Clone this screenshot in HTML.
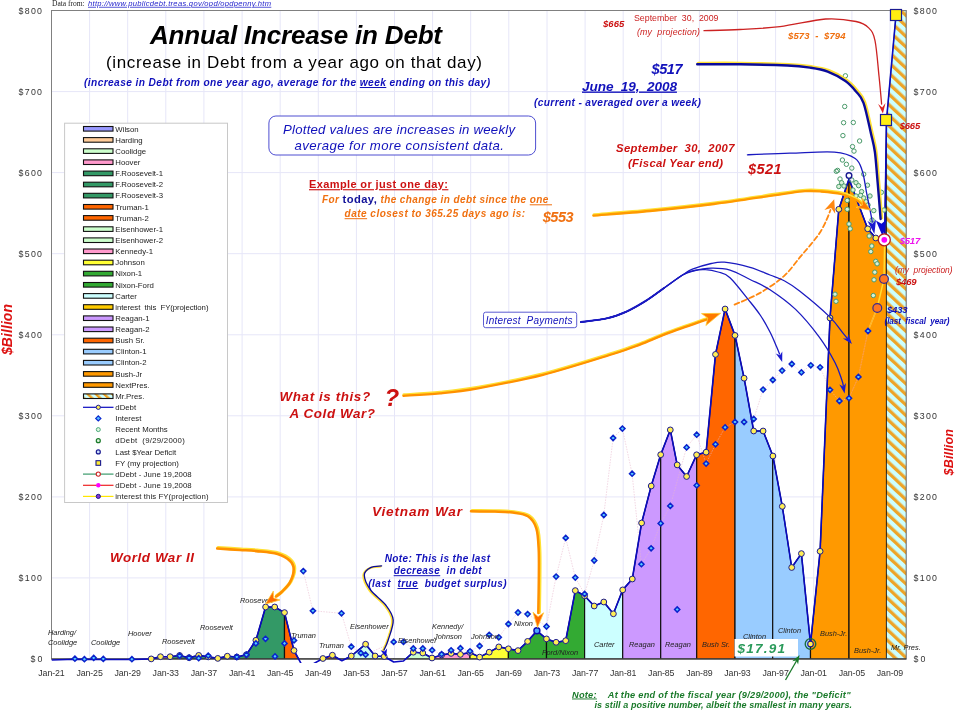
<!DOCTYPE html>
<html><head><meta charset="utf-8"><title>Annual Increase in Debt</title>
<style>
html,body{margin:0;padding:0;background:#fff;}
svg{display:block;font-family:"Liberation Sans", Arial, sans-serif;}
.bi{font-weight:bold;font-style:italic;}
.i{font-style:italic;}
.b{font-weight:bold;}
.ax{font-size:8.8px;fill:#333;}
.lg{font-size:7.8px;fill:#222;}
.pl{font-size:7.4px;fill:#222;font-style:italic;}
</style></head><body>
<svg width="956" height="710" viewBox="0 0 956 710">
<defs>
<pattern id="hatch" width="7.7" height="7" patternUnits="userSpaceOnUse" patternTransform="rotate(-47) translate(4.4,0)">
<rect width="7.7" height="7" fill="#ccffff"/><rect width="3.3" height="7" fill="#eda428"/>
</pattern>
<pattern id="hatchs" width="5.6" height="5" patternUnits="userSpaceOnUse" patternTransform="rotate(-47)">
<rect width="5.6" height="5" fill="#ccffff"/><rect width="2.4" height="5" fill="#f0a020"/>
</pattern>
<clipPath id="plot"><rect x="51.5" y="10.5" width="854.8" height="648.5"/></clipPath>
<clipPath id="plot2"><rect x="51.5" y="10.5" width="854.8" height="652.5"/></clipPath>
<marker id="ahb" viewBox="0 0 10 10" refX="9" refY="5" markerWidth="5" markerHeight="5" orient="auto" markerUnits="userSpaceOnUse"><path d="M0,0 L10,5 L0,10 L3,5 z" fill="#0000b0"/></marker>
</defs>
<rect width="956" height="710" fill="#fff"/>

<path d="M51.5,10.5V659.0 M89.6,10.5V659.0 M127.7,10.5V659.0 M165.8,10.5V659.0 M203.9,10.5V659.0 M242.1,10.5V659.0 M280.2,10.5V659.0 M318.3,10.5V659.0 M356.4,10.5V659.0 M394.5,10.5V659.0 M432.6,10.5V659.0 M470.7,10.5V659.0 M508.8,10.5V659.0 M547.0,10.5V659.0 M585.1,10.5V659.0 M623.2,10.5V659.0 M661.3,10.5V659.0 M699.4,10.5V659.0 M737.5,10.5V659.0 M775.6,10.5V659.0 M813.7,10.5V659.0 M851.9,10.5V659.0 M890.0,10.5V659.0 M51.5,577.9H906.3 M51.5,496.9H906.3 M51.5,415.8H906.3 M51.5,334.8H906.3 M51.5,253.7H906.3 M51.5,172.6H906.3 M51.5,91.6H906.3" stroke="#e6e6f8" stroke-width="1" fill="none"/>
<g clip-path="url(#plot)">
<polygon points="151.2,659.0 151.2,658.9 160.5,656.7 170.1,656.7 170.1,659.0" fill="#ff99cc" stroke="#111" stroke-width="1.2" stroke-linejoin="round"/>
<polygon points="170.1,659.0 170.1,656.7 179.6,655.5 189.1,657.7 198.7,655.4 208.2,656.9 208.2,659.0" fill="#339966" stroke="#111" stroke-width="1.2" stroke-linejoin="round"/>
<polygon points="208.2,659.0 208.2,656.9 217.8,658.4 227.3,656.2 236.8,657.0 246.4,654.7 246.4,659.0" fill="#339966" stroke="#111" stroke-width="1.2" stroke-linejoin="round"/>
<polygon points="246.4,659.0 246.4,654.7 255.9,640.3 265.6,607.0 274.7,607.0 284.5,612.6 284.5,659.0" fill="#339966" stroke="#111" stroke-width="1.2" stroke-linejoin="round"/>
<polygon points="284.5,659.0 284.5,612.6 294.0,650.5 303.5,668.0 313.0,664.0 322.9,658.5 322.9,659.0" fill="#ff6600" stroke="#111" stroke-width="1.2" stroke-linejoin="round"/>
<polygon points="322.9,659.0 322.9,658.5 332.4,655.2 341.9,660.7 351.3,656.0 351.3,659.0" fill="#ff6600" stroke="#111" stroke-width="1.2" stroke-linejoin="round"/>
<polygon points="351.3,659.0 351.3,656.0 365.6,644.2 375.1,656.0 384.2,656.5 393.7,662.0 393.7,659.0" fill="#ccffee" stroke="#111" stroke-width="1.2" stroke-linejoin="round"/>
<polygon points="393.7,659.0 393.7,662.0 403.5,661.0 413.3,652.2 422.8,653.0 432.0,658.0 432.0,659.0" fill="#ccffcc" stroke="#111" stroke-width="1.2" stroke-linejoin="round"/>
<polygon points="432.0,659.0 432.0,658.0 441.6,655.0 451.1,653.4 460.4,654.4 470.0,652.5 470.0,659.0" fill="#ff99cc" stroke="#111" stroke-width="1.2" stroke-linejoin="round"/>
<polygon points="470.0,659.0 470.0,652.5 479.6,657.1 489.2,652.2 498.8,646.9 508.4,648.8 508.4,659.0" fill="#ffff33" stroke="#111" stroke-width="1.2" stroke-linejoin="round"/>
<polygon points="508.4,659.0 508.4,648.8 518.0,650.6 527.6,641.4 536.9,630.8 546.5,638.9 546.5,659.0" fill="#33aa33" stroke="#111" stroke-width="1.2" stroke-linejoin="round"/>
<polygon points="546.5,659.0 546.5,638.9 556.1,642.3 565.7,640.7 575.3,590.6 584.6,595.8 584.6,659.0" fill="#33aa33" stroke="#111" stroke-width="1.2" stroke-linejoin="round"/>
<polygon points="584.6,659.0 584.6,595.8 594.2,606.0 603.8,602.0 613.4,613.8 622.7,589.9 622.7,659.0" fill="#ccffff" stroke="#111" stroke-width="1.2" stroke-linejoin="round"/>
<polygon points="622.7,659.0 622.7,589.9 632.3,579.0 641.6,523.0 651.2,486.0 660.7,454.7 660.7,659.0" fill="#cc99ff" stroke="#111" stroke-width="1.2" stroke-linejoin="round"/>
<polygon points="660.7,659.0 660.7,454.7 670.3,429.9 677.2,464.9 686.6,476.5 696.6,454.8 696.7,454.8 696.7,659.0" fill="#cc99ff" stroke="#111" stroke-width="1.2" stroke-linejoin="round"/>
<polygon points="696.7,659.0 696.7,454.8 706.1,452.2 715.5,354.4 725.1,309.0 735.0,335.4 735.0,659.0" fill="#ff6600" stroke="#111" stroke-width="1.2" stroke-linejoin="round"/>
<polygon points="735.0,659.0 735.0,335.4 744.1,378.2 753.7,431.0 763.1,431.0 772.7,455.5 772.7,659.0" fill="#99ccff" stroke="#111" stroke-width="1.2" stroke-linejoin="round"/>
<polygon points="772.7,659.0 772.7,455.5 772.9,456.0 782.3,506.4 791.7,567.5 801.4,553.6 810.5,644.0 810.5,659.0" fill="#99ccff" stroke="#111" stroke-width="1.2" stroke-linejoin="round"/>
<polygon points="810.5,659.0 810.5,644.0 820.1,551.3 830.0,318.0 838.8,209.3 849.0,179.0 849.0,659.0" fill="#ff9900" stroke="#111" stroke-width="1.2" stroke-linejoin="round"/>
<polygon points="849.0,659.0 849.0,179.0 867.7,228.8 875.8,238.0 884.7,240.5 886.5,120.0 886.5,659.0" fill="#ff9900" stroke="#111" stroke-width="1.2" stroke-linejoin="round"/>
<polygon points="886.5,659.0 886.5,120 896,15 897,5 906.3,5 906.3,659.0" fill="url(#hatch)" stroke="#111" stroke-width="0.6"/>
</g>
<g clip-path="url(#plot)">
<polyline points="303.3,571.1 312.9,610.8 341.5,613.3 351.3,646.7 360.8,653 365.6,654.7 393.7,641.9 403.5,641.9 413.3,648.5 422.8,648.5 432.1,650.2 441.6,654.2 451.1,650.3 460.4,648.2 470,651.3 479.6,646 489.2,634.8 498.8,637.3 508.4,624 518,612.5 527.6,614.1 546.5,626.5 556.1,576.6 565.7,537.9 575.3,577.6 584.6,594 594.2,560.5 603.8,515 613.1,438 622.4,428.6 632.1,473.7 641.4,564.2 651.1,548.3 660.7,523.4 670.3,505.9 686.6,447.4 696.7,434.7 706.1,463.6 715.5,444.3 725.1,427.4 735,422 744.1,422 753.7,419 763.1,389.6 772.8,380 782.1,370.6 791.8,364 801.4,372.4 810.8,365.3 820.1,367.3 830,389.8 839.4,401 849,398.2 858.4,376.9 868,331" fill="none" stroke="#e8b8cc" stroke-width="0.7" stroke-dasharray="1.5,1.2" opacity="0.8"/>
</g>
<rect x="51.5" y="10.5" width="854.8" height="648.5" fill="none" stroke="#808080" stroke-width="1"/>
<path d="M51.5,659.0H906.3" stroke="#222" stroke-width="1.2"/>
<g clip-path="url(#plot2)"><polyline points="51.5,660.0 74.9,659.3 103.0,659.5 132.0,659.5 151.2,658.9 160.5,656.7 170.1,656.7 179.6,655.5 189.1,657.7 198.7,655.4 208.2,656.9 217.8,658.4 227.3,656.2 236.8,657.0 246.4,654.7 255.9,640.3 265.6,607.0 274.7,607.0 284.5,612.6 294.0,650.5 303.5,668.0 313.0,664.0 322.9,658.5 332.4,655.2 341.9,660.7 351.3,656.0 365.6,644.2 375.1,656.0 384.2,656.5 393.7,662.0 403.5,661.0 413.3,652.2 422.8,653.0 432.0,658.0 441.6,655.0 451.1,653.4 460.4,654.4 470.0,652.5 479.6,657.1 489.2,652.2 498.8,646.9 508.4,648.8 518.0,650.6 527.6,641.4 536.9,630.8 546.5,638.9 556.1,642.3 565.7,640.7 575.3,590.6 584.6,595.8 594.2,606.0 603.8,602.0 613.4,613.8 622.7,589.9 632.3,579.0 641.6,523.0 651.2,486.0 660.7,454.7 670.3,429.9 677.2,464.9 686.6,476.5 696.6,454.8 706.1,452.2 715.5,354.4 725.1,309.0 735.0,335.4 744.1,378.2 753.7,431.0 763.1,431.0 772.9,456.0 782.3,506.4 791.7,567.5 801.4,553.6 810.5,644.0 820.1,551.3 830.0,318.0 838.8,209.3 849.0,179.0 867.7,228.8 875.8,238.0 884.7,240.5 886.5,120.0 896.0,15.0 897.0,5.0" fill="none" stroke="#0a0ac0" stroke-width="1.6" stroke-linejoin="round"/></g>
<polyline points="868,331 877.2,308 884,279 884.7,240.5" fill="none" stroke="#ffdd33" stroke-width="1.5"/>
<polyline points="849,398.2 858.4,376.9 868,331 877.2,308" fill="none" stroke="#ff9933" stroke-width="0.8"/>
<g fill="none" stroke="#4a9a6a" stroke-width="1">
<circle cx="845.4" cy="75.8" r="2.2" fill="none"/>
<circle cx="844.7" cy="106.5" r="2.2" fill="none"/>
<circle cx="843.6" cy="122.7" r="2.2" fill="none"/>
<circle cx="853.3" cy="122.5" r="2.2" fill="none"/>
<circle cx="842.9" cy="135.6" r="2.2" fill="none"/>
<circle cx="859.6" cy="141" r="2.2" fill="none"/>
<circle cx="852.5" cy="146.6" r="2.2" fill="none"/>
<circle cx="854" cy="151.1" r="2.2" fill="none"/>
<circle cx="842.4" cy="160" r="2.2" fill="none"/>
<circle cx="846.4" cy="164.3" r="2.2" fill="none"/>
<circle cx="851.8" cy="168.1" r="2.2" fill="none"/>
<circle cx="837.6" cy="170.4" r="2.2" fill="none"/>
<circle cx="863.7" cy="174.2" r="2.2" fill="none"/>
<circle cx="840" cy="179" r="2.2" fill="none"/>
<circle cx="836.3" cy="171.3" r="2.2" fill="none"/>
<circle cx="841.6" cy="182.7" r="2.2" fill="#d8f0d8"/>
<circle cx="838.8" cy="186.5" r="2.2" fill="#d8f0d8"/>
<circle cx="851.8" cy="180" r="2.2" fill="none"/>
<circle cx="856" cy="182.7" r="2.2" fill="#d8f0d8"/>
<circle cx="858.6" cy="185.7" r="2.2" fill="#d8f0d8"/>
<circle cx="867.5" cy="185.2" r="2.2" fill="#d8f0d8"/>
<circle cx="861.6" cy="191.6" r="2.2" fill="#d8f0d8"/>
<circle cx="860.6" cy="195.4" r="2.2" fill="#d8f0d8"/>
<circle cx="863.7" cy="198" r="2.2" fill="#d8f0d8"/>
<circle cx="866.2" cy="201.7" r="2.2" fill="#d8f0d8"/>
<circle cx="847.2" cy="200.4" r="2.2" fill="#d8f0d8"/>
<circle cx="847.2" cy="209.3" r="2.2" fill="#d8f0d8"/>
<circle cx="849" cy="224" r="2.2" fill="#d8f0d8"/>
<circle cx="850.2" cy="228.8" r="2.2" fill="#d8f0d8"/>
<circle cx="881.4" cy="192.3" r="2.2" fill="#d8f0d8"/>
<circle cx="873.8" cy="210.6" r="2.2" fill="#d8f0d8"/>
<circle cx="884" cy="210" r="2.2" fill="#d8f0d8"/>
<circle cx="869.2" cy="236" r="2.2" fill="#d8f0d8"/>
<circle cx="871.8" cy="246" r="2.2" fill="#d8f0d8"/>
<circle cx="870.8" cy="251.6" r="2.2" fill="#d8f0d8"/>
<circle cx="875.8" cy="261.3" r="2.2" fill="#d8f0d8"/>
<circle cx="877.1" cy="263.8" r="2.2" fill="#d8f0d8"/>
<circle cx="874.8" cy="272.2" r="2.2" fill="#d8f0d8"/>
<circle cx="874" cy="279.8" r="2.2" fill="#d8f0d8"/>
<circle cx="873.3" cy="295.5" r="2.2" fill="#d8f0d8"/>
<circle cx="835" cy="294.2" r="2.2" fill="#d8f0d8"/>
<circle cx="836" cy="301.3" r="2.2" fill="#d8f0d8"/>
<circle cx="844" cy="186" r="2.2" fill="#d8f0d8"/>
<circle cx="853" cy="190" r="2.2" fill="#d8f0d8"/>
<circle cx="856" cy="196" r="2.2" fill="#d8f0d8"/>
<circle cx="870" cy="196" r="2.2" fill="#d8f0d8"/>
<circle cx="868" cy="205" r="2.2" fill="#d8f0d8"/>
<circle cx="872" cy="220" r="2.2" fill="#d8f0d8"/>
</g>
<g fill="#ffee55" stroke="#1a1a90" stroke-width="1">
<circle cx="151.2" cy="658.9" r="2.9"/>
<circle cx="160.5" cy="656.7" r="2.9"/>
<circle cx="170.1" cy="656.7" r="2.9"/>
<circle cx="179.6" cy="655.5" r="2.9"/>
<circle cx="189.1" cy="657.7" r="2.9"/>
<circle cx="198.7" cy="655.4" r="2.9"/>
<circle cx="208.2" cy="656.9" r="2.9"/>
<circle cx="217.8" cy="658.4" r="2.9"/>
<circle cx="227.3" cy="656.2" r="2.9"/>
<circle cx="236.8" cy="657" r="2.9"/>
<circle cx="246.4" cy="654.7" r="2.9"/>
<circle cx="255.9" cy="640.3" r="2.9"/>
<circle cx="265.6" cy="607" r="2.9"/>
<circle cx="274.7" cy="607" r="2.9"/>
<circle cx="284.5" cy="612.6" r="2.9"/>
<circle cx="294" cy="650.5" r="2.9"/>
<circle cx="322.9" cy="658.5" r="2.9"/>
<circle cx="332.4" cy="655.2" r="2.9"/>
<circle cx="351.3" cy="656" r="2.9"/>
<circle cx="365.6" cy="644.2" r="2.9"/>
<circle cx="375.1" cy="656" r="2.9"/>
<circle cx="384.2" cy="656.5" r="2.9"/>
<circle cx="413.3" cy="652.2" r="2.9"/>
<circle cx="422.8" cy="653" r="2.9"/>
<circle cx="432" cy="658" r="2.9"/>
<circle cx="441.6" cy="655" r="2.9"/>
<circle cx="451.1" cy="653.4" r="2.9"/>
<circle cx="460.4" cy="654.4" r="2.9"/>
<circle cx="470" cy="652.5" r="2.9"/>
<circle cx="479.6" cy="657.1" r="2.9"/>
<circle cx="489.2" cy="652.2" r="2.9"/>
<circle cx="498.8" cy="646.9" r="2.9"/>
<circle cx="508.4" cy="648.8" r="2.9"/>
<circle cx="518" cy="650.6" r="2.9"/>
<circle cx="527.6" cy="641.4" r="2.9"/>
<circle cx="546.5" cy="638.9" r="2.9"/>
<circle cx="556.1" cy="642.3" r="2.9"/>
<circle cx="565.7" cy="640.7" r="2.9"/>
<circle cx="575.3" cy="590.6" r="2.9"/>
<circle cx="584.6" cy="595.8" r="2.9"/>
<circle cx="594.2" cy="606" r="2.9"/>
<circle cx="603.8" cy="602" r="2.9"/>
<circle cx="613.4" cy="613.8" r="2.9"/>
<circle cx="622.7" cy="589.9" r="2.9"/>
<circle cx="632.3" cy="579" r="2.9"/>
<circle cx="641.6" cy="523" r="2.9"/>
<circle cx="651.2" cy="486" r="2.9"/>
<circle cx="660.7" cy="454.7" r="2.9"/>
<circle cx="670.3" cy="429.9" r="2.9"/>
<circle cx="677.2" cy="464.9" r="2.9"/>
<circle cx="686.6" cy="476.5" r="2.9"/>
<circle cx="696.6" cy="454.8" r="2.9"/>
<circle cx="706.1" cy="452.2" r="2.9"/>
<circle cx="715.5" cy="354.4" r="2.9"/>
<circle cx="725.1" cy="309" r="2.9"/>
<circle cx="735" cy="335.4" r="2.9"/>
<circle cx="744.1" cy="378.2" r="2.9"/>
<circle cx="753.7" cy="431" r="2.9"/>
<circle cx="763.1" cy="431" r="2.9"/>
<circle cx="772.9" cy="456" r="2.9"/>
<circle cx="782.3" cy="506.4" r="2.9"/>
<circle cx="791.7" cy="567.5" r="2.9"/>
<circle cx="801.4" cy="553.6" r="2.9"/>
<circle cx="820.1" cy="551.3" r="2.9"/>
<circle cx="830" cy="318" r="2.9"/>
<circle cx="838.8" cy="209.3" r="2.9"/>
<circle cx="867.7" cy="228.8" r="2.9"/>
<circle cx="875.8" cy="238" r="2.9"/>
</g>
<g fill="#55ccff" stroke="#0a22cc" stroke-width="1.5">
<path d="M74.9,656.1l2.6,2.6l-2.6,2.6l-2.6,-2.6z"/>
<path d="M84.4,656.6l2.6,2.6l-2.6,2.6l-2.6,-2.6z"/>
<path d="M93.7,655.3l2.6,2.6l-2.6,2.6l-2.6,-2.6z"/>
<path d="M103.3,656.3l2.6,2.6l-2.6,2.6l-2.6,-2.6z"/>
<path d="M131.9,656.6l2.6,2.6l-2.6,2.6l-2.6,-2.6z"/>
<path d="M179.6,653.1l2.6,2.6l-2.6,2.6l-2.6,-2.6z"/>
<path d="M189.1,655.1l2.6,2.6l-2.6,2.6l-2.6,-2.6z"/>
<path d="M198.7,655.6l2.6,2.6l-2.6,2.6l-2.6,-2.6z"/>
<path d="M208.2,653.1l2.6,2.6l-2.6,2.6l-2.6,-2.6z"/>
<path d="M236.8,654.3l2.6,2.6l-2.6,2.6l-2.6,-2.6z"/>
<path d="M246.4,652.1l2.6,2.6l-2.6,2.6l-2.6,-2.6z"/>
<path d="M255.9,640.8l2.6,2.6l-2.6,2.6l-2.6,-2.6z"/>
<path d="M265.5,636.2l2.6,2.6l-2.6,2.6l-2.6,-2.6z"/>
<path d="M275,653.8l2.6,2.6l-2.6,2.6l-2.6,-2.6z"/>
<path d="M284.5,640.8l2.6,2.6l-2.6,2.6l-2.6,-2.6z"/>
<path d="M294,637.8l2.6,2.6l-2.6,2.6l-2.6,-2.6z"/>
<path d="M303.3,568.5l2.6,2.6l-2.6,2.6l-2.6,-2.6z"/>
<path d="M312.9,608.2l2.6,2.6l-2.6,2.6l-2.6,-2.6z"/>
<path d="M341.5,610.7l2.6,2.6l-2.6,2.6l-2.6,-2.6z"/>
<path d="M351.3,644.1l2.6,2.6l-2.6,2.6l-2.6,-2.6z"/>
<path d="M360.8,650.4l2.6,2.6l-2.6,2.6l-2.6,-2.6z"/>
<path d="M365.6,652.1l2.6,2.6l-2.6,2.6l-2.6,-2.6z"/>
<path d="M393.7,639.3l2.6,2.6l-2.6,2.6l-2.6,-2.6z"/>
<path d="M403.5,639.3l2.6,2.6l-2.6,2.6l-2.6,-2.6z"/>
<path d="M413.3,645.9l2.6,2.6l-2.6,2.6l-2.6,-2.6z"/>
<path d="M422.8,645.9l2.6,2.6l-2.6,2.6l-2.6,-2.6z"/>
<path d="M432.1,647.6l2.6,2.6l-2.6,2.6l-2.6,-2.6z"/>
<path d="M441.6,651.6l2.6,2.6l-2.6,2.6l-2.6,-2.6z"/>
<path d="M451.1,647.7l2.6,2.6l-2.6,2.6l-2.6,-2.6z"/>
<path d="M460.4,645.6l2.6,2.6l-2.6,2.6l-2.6,-2.6z"/>
<path d="M470,648.7l2.6,2.6l-2.6,2.6l-2.6,-2.6z"/>
<path d="M479.6,643.4l2.6,2.6l-2.6,2.6l-2.6,-2.6z"/>
<path d="M489.2,632.2l2.6,2.6l-2.6,2.6l-2.6,-2.6z"/>
<path d="M498.8,634.7l2.6,2.6l-2.6,2.6l-2.6,-2.6z"/>
<path d="M508.4,621.4l2.6,2.6l-2.6,2.6l-2.6,-2.6z"/>
<path d="M518,609.9l2.6,2.6l-2.6,2.6l-2.6,-2.6z"/>
<path d="M527.6,611.5l2.6,2.6l-2.6,2.6l-2.6,-2.6z"/>
<path d="M546.5,623.9l2.6,2.6l-2.6,2.6l-2.6,-2.6z"/>
<path d="M556.1,574.0l2.6,2.6l-2.6,2.6l-2.6,-2.6z"/>
<path d="M565.7,535.3l2.6,2.6l-2.6,2.6l-2.6,-2.6z"/>
<path d="M575.3,575.0l2.6,2.6l-2.6,2.6l-2.6,-2.6z"/>
<path d="M584.6,591.4l2.6,2.6l-2.6,2.6l-2.6,-2.6z"/>
<path d="M594.2,557.9l2.6,2.6l-2.6,2.6l-2.6,-2.6z"/>
<path d="M603.8,512.4l2.6,2.6l-2.6,2.6l-2.6,-2.6z"/>
<path d="M613.1,435.4l2.6,2.6l-2.6,2.6l-2.6,-2.6z"/>
<path d="M622.4,426.0l2.6,2.6l-2.6,2.6l-2.6,-2.6z"/>
<path d="M632.1,471.1l2.6,2.6l-2.6,2.6l-2.6,-2.6z"/>
<path d="M641.4,561.6l2.6,2.6l-2.6,2.6l-2.6,-2.6z"/>
<path d="M651.1,545.7l2.6,2.6l-2.6,2.6l-2.6,-2.6z"/>
<path d="M660.7,520.8l2.6,2.6l-2.6,2.6l-2.6,-2.6z"/>
<path d="M670.3,503.3l2.6,2.6l-2.6,2.6l-2.6,-2.6z"/>
<path d="M677.2,606.9l2.6,2.6l-2.6,2.6l-2.6,-2.6z"/>
<path d="M686.6,444.8l2.6,2.6l-2.6,2.6l-2.6,-2.6z"/>
<path d="M696.7,432.1l2.6,2.6l-2.6,2.6l-2.6,-2.6z"/>
<path d="M696.7,482.8l2.6,2.6l-2.6,2.6l-2.6,-2.6z"/>
<path d="M706.1,461.0l2.6,2.6l-2.6,2.6l-2.6,-2.6z"/>
<path d="M715.5,441.7l2.6,2.6l-2.6,2.6l-2.6,-2.6z"/>
<path d="M725.1,424.8l2.6,2.6l-2.6,2.6l-2.6,-2.6z"/>
<path d="M735,419.4l2.6,2.6l-2.6,2.6l-2.6,-2.6z"/>
<path d="M744.1,419.4l2.6,2.6l-2.6,2.6l-2.6,-2.6z"/>
<path d="M753.7,416.4l2.6,2.6l-2.6,2.6l-2.6,-2.6z"/>
<path d="M763.1,387.0l2.6,2.6l-2.6,2.6l-2.6,-2.6z"/>
<path d="M772.8,377.4l2.6,2.6l-2.6,2.6l-2.6,-2.6z"/>
<path d="M782.1,368.0l2.6,2.6l-2.6,2.6l-2.6,-2.6z"/>
<path d="M791.8,361.4l2.6,2.6l-2.6,2.6l-2.6,-2.6z"/>
<path d="M801.4,369.8l2.6,2.6l-2.6,2.6l-2.6,-2.6z"/>
<path d="M810.8,362.7l2.6,2.6l-2.6,2.6l-2.6,-2.6z"/>
<path d="M820.1,364.7l2.6,2.6l-2.6,2.6l-2.6,-2.6z"/>
<path d="M830,387.2l2.6,2.6l-2.6,2.6l-2.6,-2.6z"/>
<path d="M839.4,398.4l2.6,2.6l-2.6,2.6l-2.6,-2.6z"/>
<path d="M849,395.6l2.6,2.6l-2.6,2.6l-2.6,-2.6z"/>
<path d="M858.4,374.3l2.6,2.6l-2.6,2.6l-2.6,-2.6z"/>
<path d="M868,328.4l2.6,2.6l-2.6,2.6l-2.6,-2.6z"/>
</g>
<circle cx="536.9" cy="630.8" r="3" fill="#4da6ff" stroke="#0a0ab0" stroke-width="1.4"/>
<circle cx="849" cy="175.6" r="2.8" fill="#fff" stroke="#1a1a90" stroke-width="1.4"/>
<circle cx="810.5" cy="644" r="5.3" fill="none" stroke="#1a6a3a" stroke-width="1.3"/><circle cx="810.5" cy="644" r="2.8" fill="#ffee55" stroke="#1a1a90" stroke-width="1.1"/>
<text x="30.5" y="662.2" class="ax" letter-spacing="2.203" >$0</text>
<text x="913.5" y="662.2" class="ax" letter-spacing="2.203" >$0</text>
<text x="18.5" y="581.1" class="ax" letter-spacing="1.307" >$100</text>
<text x="913.5" y="581.1" class="ax" letter-spacing="1.307" >$100</text>
<text x="18.5" y="500.1" class="ax" letter-spacing="1.307" >$200</text>
<text x="913.5" y="500.1" class="ax" letter-spacing="1.307" >$200</text>
<text x="18.5" y="419.0" class="ax" letter-spacing="1.307" >$300</text>
<text x="913.5" y="419.0" class="ax" letter-spacing="1.307" >$300</text>
<text x="18.5" y="337.9" class="ax" letter-spacing="1.307" >$400</text>
<text x="913.5" y="337.9" class="ax" letter-spacing="1.307" >$400</text>
<text x="18.5" y="256.9" class="ax" letter-spacing="1.307" >$500</text>
<text x="913.5" y="256.9" class="ax" letter-spacing="1.307" >$500</text>
<text x="18.5" y="175.8" class="ax" letter-spacing="1.307" >$600</text>
<text x="913.5" y="175.8" class="ax" letter-spacing="1.307" >$600</text>
<text x="18.5" y="94.8" class="ax" letter-spacing="1.307" >$700</text>
<text x="913.5" y="94.8" class="ax" letter-spacing="1.307" >$700</text>
<text x="18.5" y="13.7" class="ax" letter-spacing="1.307" >$800</text>
<text x="913.5" y="13.7" class="ax" letter-spacing="1.307" >$800</text>
<text x="38.3" y="676.3" class="ax" letter-spacing="-0.101" >Jan-21</text>
<text x="76.4" y="676.3" class="ax" letter-spacing="-0.101" >Jan-25</text>
<text x="114.5" y="676.3" class="ax" letter-spacing="-0.101" >Jan-29</text>
<text x="152.6" y="676.3" class="ax" letter-spacing="-0.101" >Jan-33</text>
<text x="190.7" y="676.3" class="ax" letter-spacing="-0.101" >Jan-37</text>
<text x="228.9" y="676.3" class="ax" letter-spacing="-0.101" >Jan-41</text>
<text x="267.0" y="676.3" class="ax" letter-spacing="-0.101" >Jan-45</text>
<text x="305.1" y="676.3" class="ax" letter-spacing="-0.101" >Jan-49</text>
<text x="343.2" y="676.3" class="ax" letter-spacing="-0.101" >Jan-53</text>
<text x="381.3" y="676.3" class="ax" letter-spacing="-0.101" >Jan-57</text>
<text x="419.4" y="676.3" class="ax" letter-spacing="-0.101" >Jan-61</text>
<text x="457.5" y="676.3" class="ax" letter-spacing="-0.101" >Jan-65</text>
<text x="495.6" y="676.3" class="ax" letter-spacing="-0.101" >Jan-69</text>
<text x="533.8" y="676.3" class="ax" letter-spacing="-0.101" >Jan-73</text>
<text x="571.9" y="676.3" class="ax" letter-spacing="-0.101" >Jan-77</text>
<text x="610.0" y="676.3" class="ax" letter-spacing="-0.101" >Jan-81</text>
<text x="648.1" y="676.3" class="ax" letter-spacing="-0.101" >Jan-85</text>
<text x="686.2" y="676.3" class="ax" letter-spacing="-0.101" >Jan-89</text>
<text x="724.3" y="676.3" class="ax" letter-spacing="-0.101" >Jan-93</text>
<text x="762.4" y="676.3" class="ax" letter-spacing="-0.101" >Jan-97</text>
<text x="800.5" y="676.3" class="ax" letter-spacing="-0.101" >Jan-01</text>
<text x="838.7" y="676.3" class="ax" letter-spacing="-0.101" >Jan-05</text>
<text x="876.8" y="676.3" class="ax" letter-spacing="-0.101" >Jan-09</text>
<text transform="translate(12.2,355) rotate(-90)" class="bi" font-size="14" fill="#dd1111" letter-spacing="0.062">$Billion</text>
<text transform="translate(953.2,475.5) rotate(-90)" class="bi" font-size="12.6" fill="#dd1111" letter-spacing="0.145">$Billion</text>
<text x="52" y="5.6" font-family="'Liberation Serif', serif" font-size="7.5" fill="#222">Data from:</text>
<text x="88" y="5.8" class="i" font-size="7.6" fill="#2222cc" text-decoration="underline" letter-spacing="0.286">http://www.publicdebt.treas.gov/opd/opdpenny.htm</text>
<text x="150" y="44" class="bi" font-size="26" fill="#000" letter-spacing="-0.190" >Annual Increase in Debt</text>
<text x="106" y="67.5" font-size="17" fill="#000" letter-spacing="0.649" >(increase in Debt from a year ago on that day)</text>
<text x="84" y="86" class="bi" font-size="10.2" fill="#1111bb" letter-spacing="0.396">(increase in Debt from one year ago, average for the  <tspan text-decoration="underline">week</tspan>  ending on this day)</text>
<rect x="64.6" y="123.2" width="162.9" height="379.3" fill="#fff" stroke="#c8c8c8" stroke-width="1"/>
<rect x="83.5" y="126.5" width="29.5" height="4.6" fill="#9999ff" stroke="#111" stroke-width="1.1"/>
<text x="115.3" y="131.5" class="lg" xml:space="preserve">Wilson</text>
<rect x="83.5" y="137.6" width="29.5" height="4.6" fill="#ffcc99" stroke="#111" stroke-width="1.1"/>
<text x="115.3" y="142.6" class="lg" xml:space="preserve">Harding</text>
<rect x="83.5" y="148.8" width="29.5" height="4.6" fill="#ccffcc" stroke="#111" stroke-width="1.1"/>
<text x="115.3" y="153.8" class="lg" xml:space="preserve">Coolidge</text>
<rect x="83.5" y="159.9" width="29.5" height="4.6" fill="#ff99cc" stroke="#111" stroke-width="1.1"/>
<text x="115.3" y="164.9" class="lg" xml:space="preserve">Hoover</text>
<rect x="83.5" y="171.1" width="29.5" height="4.6" fill="#339966" stroke="#111" stroke-width="1.1"/>
<text x="115.3" y="176.1" class="lg" xml:space="preserve">F.Roosevelt-1</text>
<rect x="83.5" y="182.2" width="29.5" height="4.6" fill="#339966" stroke="#111" stroke-width="1.1"/>
<text x="115.3" y="187.2" class="lg" xml:space="preserve">F.Roosevelt-2</text>
<rect x="83.5" y="193.3" width="29.5" height="4.6" fill="#339966" stroke="#111" stroke-width="1.1"/>
<text x="115.3" y="198.3" class="lg" xml:space="preserve">F.Roosevelt-3</text>
<rect x="83.5" y="204.5" width="29.5" height="4.6" fill="#ff6600" stroke="#111" stroke-width="1.1"/>
<text x="115.3" y="209.5" class="lg" xml:space="preserve">Truman-1</text>
<rect x="83.5" y="215.6" width="29.5" height="4.6" fill="#ff6600" stroke="#111" stroke-width="1.1"/>
<text x="115.3" y="220.6" class="lg" xml:space="preserve">Truman-2</text>
<rect x="83.5" y="226.8" width="29.5" height="4.6" fill="#ccffcc" stroke="#111" stroke-width="1.1"/>
<text x="115.3" y="231.8" class="lg" xml:space="preserve">Eisenhower-1</text>
<rect x="83.5" y="237.9" width="29.5" height="4.6" fill="#ccffcc" stroke="#111" stroke-width="1.1"/>
<text x="115.3" y="242.9" class="lg" xml:space="preserve">Eisenhower-2</text>
<rect x="83.5" y="249.0" width="29.5" height="4.6" fill="#ff99cc" stroke="#111" stroke-width="1.1"/>
<text x="115.3" y="254.0" class="lg" xml:space="preserve">Kennedy-1</text>
<rect x="83.5" y="260.2" width="29.5" height="4.6" fill="#ffff33" stroke="#111" stroke-width="1.1"/>
<text x="115.3" y="265.2" class="lg" xml:space="preserve">Johnson</text>
<rect x="83.5" y="271.3" width="29.5" height="4.6" fill="#33aa33" stroke="#111" stroke-width="1.1"/>
<text x="115.3" y="276.3" class="lg" xml:space="preserve">Nixon-1</text>
<rect x="83.5" y="282.5" width="29.5" height="4.6" fill="#33aa33" stroke="#111" stroke-width="1.1"/>
<text x="115.3" y="287.5" class="lg" xml:space="preserve">Nixon-Ford</text>
<rect x="83.5" y="293.6" width="29.5" height="4.6" fill="#ccffff" stroke="#111" stroke-width="1.1"/>
<text x="115.3" y="298.6" class="lg" xml:space="preserve">Carter</text>
<rect x="83.5" y="304.7" width="29.5" height="4.6" fill="#ffcc00" stroke="#111" stroke-width="1.1"/>
<text x="115.3" y="309.7" class="lg" letter-spacing="-0.074" xml:space="preserve">interest  this  FY(projection)</text>
<rect x="83.5" y="315.9" width="29.5" height="4.6" fill="#cc99ff" stroke="#111" stroke-width="1.1"/>
<text x="115.3" y="320.9" class="lg" xml:space="preserve">Reagan-1</text>
<rect x="83.5" y="327.0" width="29.5" height="4.6" fill="#cc99ff" stroke="#111" stroke-width="1.1"/>
<text x="115.3" y="332.0" class="lg" xml:space="preserve">Reagan-2</text>
<rect x="83.5" y="338.2" width="29.5" height="4.6" fill="#ff6600" stroke="#111" stroke-width="1.1"/>
<text x="115.3" y="343.2" class="lg" xml:space="preserve">Bush Sr.</text>
<rect x="83.5" y="349.3" width="29.5" height="4.6" fill="#99ccff" stroke="#111" stroke-width="1.1"/>
<text x="115.3" y="354.3" class="lg" xml:space="preserve">Clinton-1</text>
<rect x="83.5" y="360.4" width="29.5" height="4.6" fill="#99ccff" stroke="#111" stroke-width="1.1"/>
<text x="115.3" y="365.4" class="lg" xml:space="preserve">Clinton-2</text>
<rect x="83.5" y="371.6" width="29.5" height="4.6" fill="#ff9900" stroke="#111" stroke-width="1.1"/>
<text x="115.3" y="376.6" class="lg" xml:space="preserve">Bush-Jr</text>
<rect x="83.5" y="382.7" width="29.5" height="4.6" fill="#ff9900" stroke="#111" stroke-width="1.1"/>
<text x="115.3" y="387.7" class="lg" xml:space="preserve">NextPres.</text>
<rect x="83.5" y="393.9" width="29.5" height="4.6" fill="url(#hatchs)" stroke="#111" stroke-width="1.1"/>
<text x="115.3" y="398.9" class="lg" xml:space="preserve">Mr.Pres.</text>
<path d="M83,407.3H113.5" stroke="#0a0ac0" stroke-width="1.2"/><circle cx="98.3" cy="407.3" r="2.1" fill="#ffee55" stroke="#1a1a90" stroke-width="1"/>
<text x="115.3" y="410.0" class="lg" xml:space="preserve">dDebt</text>
<path d="M98.3,415.8l2.6,2.6l-2.6,2.6l-2.6,-2.6z" fill="#55bbff" stroke="#0a2ad0" stroke-width="1.2"/>
<text x="115.3" y="421.1" class="lg" xml:space="preserve">Interest</text>
<circle cx="98.3" cy="429.6" r="2" fill="#e0f5e0" stroke="#4aaa7a" stroke-width="1"/>
<text x="115.3" y="432.3" class="lg" xml:space="preserve">Recent Months</text>
<circle cx="98.3" cy="440.7" r="2" fill="#e0f5e0" stroke="#1a7a2a" stroke-width="1.2"/>
<text x="115.3" y="443.4" class="lg" letter-spacing="0.263" xml:space="preserve">dDebt  (9/29/2000)</text>
<circle cx="98.3" cy="451.9" r="2" fill="#cce0ff" stroke="#1a1a90" stroke-width="1.2"/>
<text x="115.3" y="454.6" class="lg" xml:space="preserve">Last $Year Deficit</text>
<rect x="96.0" y="460.7" width="4.6" height="4.6" fill="#ffee33" stroke="#1a1a90" stroke-width="1.1"/>
<text x="115.3" y="465.7" class="lg" xml:space="preserve">FY (my projection)</text>
<path d="M83,474.1H113.5" stroke="#3a9a6a" stroke-width="1.2"/><circle cx="98.3" cy="474.1" r="2.1" fill="#fff" stroke="#cc2222" stroke-width="1.1"/>
<text x="115.3" y="476.8" class="lg" letter-spacing="0.074" xml:space="preserve">dDebt - June 19,2008</text>
<path d="M83,485.3H113.5" stroke="#ee2222" stroke-width="1.2"/><circle cx="98.3" cy="485.3" r="2.2" fill="#ff00ff"/>
<text x="115.3" y="488.0" class="lg" letter-spacing="0.074" xml:space="preserve">dDebt - June 19,2008</text>
<path d="M83,496.4H113.5" stroke="#ffe600" stroke-width="1.2"/><circle cx="98.3" cy="496.4" r="2.1" fill="#8833cc" stroke="#1a1a90" stroke-width="1"/>
<text x="115.3" y="499.1" class="lg" letter-spacing="0.081" xml:space="preserve">interest this FY(projection)</text>
<text x="48" y="634.5" class="pl" >Harding/</text>
<text x="48" y="644.5" class="pl" >Coolidge</text>
<text x="91" y="645" class="pl" >Coolidge</text>
<text x="128" y="636" class="pl" >Hoover</text>
<text x="162" y="644" class="pl" >Roosevelt</text>
<text x="200" y="629.5" class="pl" >Roosevelt</text>
<text x="240" y="603" class="pl" >Roosevelt</text>
<text x="291" y="638" class="pl" >Truman</text>
<text x="319" y="648" class="pl" >Truman</text>
<text x="350" y="629" class="pl" >Eisenhower</text>
<text x="398" y="642.5" class="pl" >Eisenhower</text>
<text x="432" y="629" class="pl" >Kennedy/</text>
<text x="434" y="639" class="pl" >Johnson</text>
<text x="471" y="639" class="pl" >Johnson</text>
<text x="514" y="626" class="pl" >Nixon</text>
<text x="542" y="655" class="pl" >Ford/Nixon</text>
<text x="594" y="647" class="pl" >Carter</text>
<text x="629" y="647" class="pl" >Reagan</text>
<text x="665" y="647" class="pl" >Reagan</text>
<text x="702" y="647" class="pl" >Bush Sr.</text>
<text x="743" y="639" class="pl" >Clinton</text>
<text x="778" y="633" class="pl" >Clinton</text>
<text x="820" y="636" class="pl" >Bush-Jr.</text>
<text x="854" y="653" class="pl" >Bush-Jr.</text>
<text x="891" y="650" class="pl" >Mr. Pres.</text>
<path d="M698.2,63.3 C705.3,63.3 726.0,63.1 741.0,63.3 C756.0,63.5 776.8,64.0 788.5,64.5 C800.2,65.0 804.3,65.6 811.0,66.6 C817.7,67.6 822.8,68.3 828.7,70.6 C834.6,72.8 841.7,76.8 846.4,80.1 C851.1,83.4 854.0,86.9 857.0,90.5 C860.0,94.1 862.0,94.8 864.5,101.8 C867.0,108.8 870.1,124.5 872.0,132.7 C873.9,140.9 874.8,142.9 875.9,151.0 C877.0,159.1 877.6,169.8 878.6,181.0 C879.6,192.2 881.1,211.8 881.6,218.0" fill="none" stroke="#ffe033" stroke-width="3.2" stroke-linecap="round" />
<path d="M697.2,64.3 C704.3,64.3 725.0,64.1 740.0,64.3 C755.0,64.5 775.8,65.0 787.5,65.5 C799.2,66.0 803.3,66.6 810.0,67.6 C816.7,68.6 821.8,69.3 827.7,71.6 C833.6,73.8 840.7,77.8 845.4,81.1 C850.1,84.4 853.0,87.9 856.0,91.5 C859.0,95.1 861.0,95.8 863.5,102.8 C866.0,109.8 869.1,125.5 871.0,133.7 C872.9,141.9 873.8,143.9 874.9,152.0 C876.0,160.1 876.6,170.8 877.6,182.0 C878.6,193.2 880.1,212.8 880.6,219.0" fill="none" stroke="#0a0a9a" stroke-width="2.4" stroke-linecap="round" />
<path d="M882.9,237.0L875.9,220.6L881.5,223.8L886.4,219.5z" fill="#0a0ad0"/>
<path d="M747.4,154.8 C754.5,154.5 775.5,153.6 790.0,153.2 C804.5,152.8 823.5,151.2 834.4,152.1 C845.3,153.0 850.6,155.3 855.2,158.5 C859.9,161.7 860.4,165.4 862.3,171.0 C864.2,176.6 865.1,185.2 866.5,192.3 C867.9,199.4 869.7,208.5 870.7,213.4 C871.7,218.3 872.0,220.6 872.3,222.0" fill="none" stroke="#1a1ac0" stroke-width="1.3" stroke-linecap="round" />
<path d="M874.4,234.0L867.5,221.1L872.4,223.7L876.0,219.4z" fill="#1a1ad0"/>
<path d="M594.0,214.8 C603.4,214.0 630.5,212.0 650.6,210.1 C670.7,208.2 692.7,205.9 714.5,203.1 C736.3,200.3 766.2,195.5 781.4,193.4 C796.6,191.3 798.9,190.8 805.6,190.3 C812.3,189.8 815.6,190.1 821.6,190.6 C827.6,191.1 835.9,191.8 841.6,193.1 C847.3,194.4 852.4,197.0 855.8,198.6 C859.2,200.2 861.1,202.2 862.1,202.9" fill="none" stroke="#ffe033" stroke-width="3.0999999999999996" stroke-linecap="round" />
<path d="M593.4,215.7 C602.8,214.9 629.9,212.9 650.0,211.0 C670.1,209.1 692.1,206.8 713.9,204.0 C735.7,201.2 765.6,196.4 780.8,194.3 C796.0,192.2 798.3,191.7 805.0,191.2 C811.7,190.7 815.0,191.0 821.0,191.5 C827.0,192.0 835.3,192.7 841.0,194.0 C846.7,195.3 851.8,197.9 855.2,199.5 C858.6,201.1 860.5,203.1 861.5,203.8" fill="none" stroke="#ff9900" stroke-width="2.3" stroke-linecap="round" />
<path d="M870.5,210.2L856.2,207.4L862.4,204.9L862.1,198.3z" fill="#ff7a00" stroke="#ffcc33" stroke-width="0.8" stroke-linejoin="round"/>
<path d="M704.0,30.7 C710.0,30.5 727.3,30.2 740.0,29.5 C752.7,28.8 765.7,28.4 780.0,26.6 C794.3,24.9 812.9,19.9 825.6,19.0 C838.3,18.1 848.8,20.0 856.0,21.5 C863.2,23.0 865.5,24.7 868.7,27.9 C871.9,31.1 873.3,32.6 875.0,40.6 C876.7,48.6 877.9,65.4 879.0,76.0 C880.1,86.6 881.2,99.3 881.6,104.0" fill="none" stroke="#cc2222" stroke-width="1.3" stroke-linecap="round" />
<path d="M882.9,113.5L878.1,104.0L882.2,107.5L885.5,103.1z" fill="#dd2222"/>
<path d="M734.6,304.6 C738.8,302.7 751.5,297.8 759.7,293.1 C767.9,288.4 777.0,282.3 783.7,276.3 C790.4,270.3 795.3,262.8 800.0,257.2 C804.7,251.6 808.7,247.1 812.0,243.0 C815.3,238.9 817.6,236.3 820.0,232.5 C822.4,228.7 824.8,223.8 826.5,220.0 C828.2,216.2 829.8,211.7 830.5,210.0" fill="none" stroke="#ff8811" stroke-width="1.8" stroke-linecap="round" stroke-dasharray="5,3"/>
<path d="M834.2,199.2L835.2,213.8L831.2,207.9L824.4,210.1z" fill="#ff8811"/>
<path d="M580.9,322.1 C585.4,321.4 600.1,319.9 607.7,318.1 C615.3,316.4 620.2,314.4 626.5,311.6 C632.8,308.8 639.0,305.1 645.3,301.2 C651.6,297.3 661.0,290.2 664.1,288.0" fill="none" stroke="#1a1ac0" stroke-width="2.0" stroke-linecap="round" />
<path d="M580.9,322.1 C585.4,321.4 600.1,319.9 607.7,318.1 C615.3,316.4 620.2,314.4 626.5,311.6 C632.8,308.8 639.0,305.1 645.3,301.2 C651.6,297.3 657.8,292.4 664.1,288.0 C670.4,283.6 677.9,277.7 683.0,274.8 C688.1,271.9 691.2,271.4 695.0,270.5 C698.8,269.6 701.8,269.4 705.6,269.7 C709.4,269.9 713.9,270.7 718.0,272.0 C722.1,273.3 724.9,273.0 730.0,277.7 C735.1,282.4 743.8,294.0 748.9,300.3 C754.0,306.6 757.0,310.2 760.5,315.5 C764.0,320.8 767.3,326.8 770.0,332.0 C772.7,337.2 774.9,342.8 776.5,346.5 C778.1,350.2 779.1,352.8 779.6,354.0" fill="none" stroke="#1a1ac0" stroke-width="1.3" stroke-linecap="round" />
<path d="M580.9,322.1 C585.4,321.4 600.1,319.9 607.7,318.1 C615.3,316.4 620.2,314.4 626.5,311.6 C632.8,308.8 639.0,305.1 645.3,301.2 C651.6,297.3 657.8,292.4 664.1,288.0 C670.4,283.6 678.3,277.6 683.0,274.8 C687.7,272.0 687.7,272.1 692.4,271.0 C697.1,269.9 704.9,268.3 711.2,268.2 C717.5,268.1 723.5,268.2 730.0,270.1 C736.5,272.0 743.3,276.2 750.0,279.5 C756.7,282.8 762.4,284.7 770.0,289.7 C777.6,294.7 787.4,301.5 795.6,309.4 C803.8,317.3 812.7,328.2 819.3,337.1 C825.9,346.0 831.3,355.5 835.1,362.7 C838.9,369.9 840.6,376.6 842.0,380.5 C843.4,384.4 843.1,385.1 843.3,386.0" fill="none" stroke="#1a1ac0" stroke-width="1.3" stroke-linecap="round" />
<path d="M580.9,322.1 C585.4,321.4 600.1,319.9 607.7,318.1 C615.3,316.4 620.2,314.4 626.5,311.6 C632.8,308.8 639.0,305.1 645.3,301.2 C651.6,297.3 657.8,292.4 664.1,288.0 C670.4,283.6 678.3,277.9 683.0,274.8 C687.7,271.7 687.7,271.1 692.4,269.2 C697.1,267.3 705.9,264.7 711.2,263.5 C716.5,262.3 717.9,261.6 724.4,262.2 C730.9,262.8 742.4,265.2 750.0,267.3 C757.6,269.4 764.4,272.8 770.0,275.0 C775.6,277.2 778.8,277.8 783.7,280.5 C788.6,283.2 792.0,285.0 799.6,291.0 C807.2,297.0 822.0,309.4 829.2,316.4 C836.4,323.4 840.0,329.4 843.0,333.1 C846.0,336.8 846.8,337.7 847.5,338.6" fill="none" stroke="#1a1ac0" stroke-width="1.3" stroke-linecap="round" />
<path d="M782.2,362.0L775.8,353.6L780.0,355.2L782.3,351.4z" fill="#1a1ad0"/>
<path d="M851.9,344.0L842.9,338.4L847.4,338.4L848.3,334.1z" fill="#1a1ad0"/>
<path d="M844.6,393.5L839.3,384.4L843.2,386.4L846.0,383.0z" fill="#1a1ad0"/>
<path d="M403.8,394.8 C409.9,394.4 427.9,393.6 440.3,392.3 C452.7,391.1 461.1,390.4 478.3,387.3 C495.5,384.2 520.8,379.5 543.3,373.8 C565.8,368.1 597.1,358.0 613.3,353.0 C629.5,348.0 631.1,347.1 640.3,343.6 C649.5,340.1 657.1,336.4 668.3,332.2 C679.5,328.0 700.8,320.7 707.3,318.4" fill="none" stroke="#ffe033" stroke-width="3.0999999999999996" stroke-linecap="round" />
<path d="M403.5,395.8 C409.6,395.4 427.6,394.6 440.0,393.3 C452.4,392.1 460.8,391.4 478.0,388.3 C495.2,385.2 520.5,380.5 543.0,374.8 C565.5,369.1 596.8,359.0 613.0,354.0 C629.2,349.0 630.8,348.1 640.0,344.6 C649.2,341.1 656.8,337.4 668.0,333.2 C679.2,329.0 700.5,321.7 707.0,319.4" fill="none" stroke="#ff9000" stroke-width="2.3" stroke-linecap="round" />
<path d="M720.6,313.3L705.9,325.5L707.8,318.0L701.5,313.6z" fill="#ff7a00" stroke="#ffcc33" stroke-width="0.8" stroke-linejoin="round"/>
<path d="M472.0,510.6 C476.0,510.7 489.0,510.7 496.0,510.9 C503.0,511.1 508.5,511.1 514.0,511.9 C519.5,512.7 525.0,513.0 528.9,515.6 C532.8,518.2 535.5,522.0 537.3,527.6 C539.1,533.2 539.3,540.6 539.7,549.2 C540.1,557.8 539.9,568.8 539.8,579.3 C539.7,589.8 539.4,606.8 539.3,612.3" fill="none" stroke="#ffe033" stroke-width="3.3" stroke-linecap="round" />
<path d="M471.0,511.3 C475.0,511.4 488.0,511.4 495.0,511.6 C502.0,511.8 507.5,511.8 513.0,512.6 C518.5,513.4 524.0,513.7 527.9,516.3 C531.8,518.9 534.5,522.7 536.3,528.3 C538.1,533.9 538.3,541.3 538.7,549.9 C539.1,558.5 538.9,569.5 538.8,580.0 C538.7,590.5 538.4,607.5 538.3,613.0" fill="none" stroke="#ff9000" stroke-width="2.5" stroke-linecap="round" />
<path d="M537.5,627.5L533.0,612.2L538.1,616.7L543.6,612.8z" fill="#ff6a00" stroke="#ffcc33" stroke-width="0.8" stroke-linejoin="round"/>
<path d="M218.1,547.6 C221.9,547.9 234.4,548.7 240.9,549.1 C247.4,549.5 250.9,549.5 257.2,550.2 C263.4,550.9 272.8,551.5 278.4,553.1 C284.0,554.8 288.3,557.5 291.0,560.1 C293.7,562.7 294.6,565.0 294.6,568.5 C294.6,572.0 293.0,577.4 291.0,581.2 C289.0,585.0 284.9,588.7 282.6,591.1 C280.2,593.5 277.8,594.9 276.9,595.6" fill="none" stroke="#ffe033" stroke-width="3.4000000000000004" stroke-linecap="round" />
<path d="M217.2,548.5 C221.0,548.8 233.5,549.6 240.0,550.0 C246.5,550.4 250.1,550.4 256.3,551.1 C262.6,551.8 271.9,552.4 277.5,554.0 C283.1,555.6 287.4,558.4 290.1,561.0 C292.8,563.6 293.7,565.9 293.7,569.4 C293.7,572.9 292.1,578.3 290.1,582.1 C288.1,585.9 284.1,589.6 281.7,592.0 C279.3,594.4 276.9,595.8 276.0,596.5" fill="none" stroke="#ff9000" stroke-width="2.6" stroke-linecap="round" />
<path d="M265.5,604.0L273.3,591.1L273.5,597.9L280.0,600.0z" fill="#ff6a00" stroke="#ffcc33" stroke-width="0.8" stroke-linejoin="round"/>
<path d="M380.6,566.5 C378.8,566.8 372.5,566.7 369.6,568.2 C366.7,569.7 363.3,571.9 363.3,575.6 C363.3,579.3 366.0,585.6 369.6,590.6 C373.2,595.6 380.9,600.6 384.7,605.6 C388.5,610.6 391.8,614.8 392.2,620.6 C392.6,626.4 388.7,635.6 387.2,640.6 C385.7,645.6 383.7,648.9 383.0,650.6" fill="none" stroke="#ffe033" stroke-width="2.1" stroke-linecap="round" />
<path d="M381.6,565.9 C379.8,566.2 373.5,566.1 370.6,567.6 C367.7,569.1 364.3,571.3 364.3,575.0 C364.3,578.7 367.0,585.0 370.6,590.0 C374.2,595.0 381.9,600.0 385.7,605.0 C389.5,610.0 392.8,614.2 393.2,620.0 C393.6,625.8 389.7,635.0 388.2,640.0 C386.7,645.0 384.7,648.3 384.0,650.0" fill="none" stroke="#0a0a9a" stroke-width="1.3" stroke-linecap="round" />
<path d="M386.0,657.0L380.6,650.2L384.5,651.6L387.1,648.4z" fill="#0a0ad0"/>
<path d="M785.5,680L797,660" stroke="#1a7a2a" stroke-width="1.3" fill="none"/>
<path d="M799.5,655.0L798.1,664.5L796.4,660.5L792.2,661.2z" fill="#1a7a2a"/>
<rect x="880.5" y="114.5" width="11" height="11" fill="#ffee11" stroke="#1a1a90" stroke-width="1.2"/>
<rect x="890.5" y="9.5" width="11" height="11" fill="#ffee11" stroke="#1a1a90" stroke-width="1.2"/>
<circle cx="877.3" cy="308" r="4.4" fill="#ff7722" stroke="#3a2a90" stroke-width="1.2"/>
<circle cx="884" cy="279" r="4.4" fill="#ff7722" stroke="#3a2a90" stroke-width="1.2"/>
<circle cx="884.3" cy="239.8" r="6" fill="#fff" stroke="#b02020" stroke-width="1.3"/><circle cx="884.3" cy="239.8" r="2.9" fill="#ff00ff"/>
<text x="603" y="27.2" class="bi" font-size="9.5" fill="#cc1111" letter-spacing="0.053" >$665</text>
<text x="634" y="20.5" font-size="8.8" fill="#cc2222" letter-spacing="-0.006" xml:space="preserve">September  30,  2009</text>
<text x="637" y="35" class="i" font-size="8.8" fill="#cc2222" letter-spacing="0.158" xml:space="preserve">(my  projection)</text>
<text x="788" y="38.7" class="bi" font-size="9.5" fill="#f07010" letter-spacing="0.125" xml:space="preserve">$573  -  $794</text>
<text x="651.5" y="73.5" class="bi" font-size="14.5" fill="#1111bb" letter-spacing="-0.422" >$517</text>
<text x="582" y="90.5" class="bi" font-size="13.6" fill="#1111bb" text-decoration="underline" letter-spacing="-0.070" xml:space="preserve">June  19,  2008</text>
<text x="534" y="106" class="bi" font-size="10.2" fill="#1111bb" letter-spacing="0.346" >(current - averaged over a week)</text>
<text x="616" y="151.5" class="bi" font-size="11.3" fill="#cc1111" letter-spacing="0.354" xml:space="preserve">September  30,  2007</text>
<text x="628" y="166.5" class="bi" font-size="11.3" fill="#cc1111" letter-spacing="0.325" >(Fiscal Year end)</text>
<text x="748" y="174" class="bi" font-size="14.5" fill="#cc1111" letter-spacing="0.411" >$521</text>
<text x="899.7" y="128.8" class="bi" font-size="9.5" fill="#cc1111" letter-spacing="-0.214" >$665</text>
<text x="899.7" y="244" class="bi" font-size="9.5" fill="#ee11ee" letter-spacing="-0.214" >$517</text>
<text x="895" y="272.8" class="i" font-size="8.4" fill="#cc2222" letter-spacing="-0.015" xml:space="preserve">(my  projection)</text>
<text x="896" y="285" class="bi" font-size="9.5" fill="#cc1111" letter-spacing="-0.214" >$469</text>
<text x="887" y="313" class="bi" font-size="9.5" fill="#1111bb" letter-spacing="-0.214" >$433</text>
<text x="884.5" y="324.3" class="bi" font-size="8.2" fill="#1111bb" letter-spacing="-0.076" xml:space="preserve">(last  fiscal  year)</text>
<rect x="268.9" y="116" width="266.7" height="39" rx="7" ry="7" fill="#fff" stroke="#3a3acc" stroke-width="0.9"/>
<text x="283" y="133.5" class="i" font-size="13.2" fill="#1111bb" letter-spacing="0.228" >Plotted values are increases in weekly</text>
<text x="294.5" y="150" class="i" font-size="13.2" fill="#1111bb" letter-spacing="0.407" >average for more consistent data.</text>
<text x="309" y="188.2" class="b" font-size="11" fill="#cc1111" text-decoration="underline" letter-spacing="0.382">Example or just one day:</text>
<text x="322" y="203.3" class="bi" font-size="10" fill="#f07010" letter-spacing="0.418" xml:space="preserve">For <tspan fill="#111199" font-size="11.2" font-style="normal">today,</tspan> the change in debt since the <tspan text-decoration="underline">one </tspan></text>
<text x="344.6" y="217.2" class="bi" font-size="10" fill="#f07010" letter-spacing="0.486" xml:space="preserve"><tspan text-decoration="underline">date</tspan> closest to 365.25 days ago is:</text>
<text x="542.7" y="221.5" class="bi" font-size="14.5" fill="#f07010" letter-spacing="-0.422" >$553</text>
<rect x="483.5" y="312.2" width="93.2" height="15.5" rx="2.2" fill="#fff" stroke="#4a4acc" stroke-width="0.9"/>
<text x="485.8" y="323.9" class="i" font-size="10" fill="#1111bb" letter-spacing="0.190" xml:space="preserve">Interest  Payments</text>
<text x="279.6" y="400.8" class="bi" font-size="13.4" fill="#cc1111" letter-spacing="0.598" >What is this?</text>
<text x="289.5" y="417.8" class="bi" font-size="13.4" fill="#cc1111" letter-spacing="0.589" >A Cold War?</text>
<text x="384.5" y="406" class="bi" font-size="24" fill="#cc1111" >?</text>
<text x="372" y="515.6" class="bi" font-size="13.6" fill="#cc1111" letter-spacing="0.841" >Vietnam War</text>
<text x="110" y="562" class="bi" font-size="13.4" fill="#cc1111" letter-spacing="0.580" >World War II</text>
<text x="384.8" y="561.7" class="bi" font-size="10" fill="#1111bb" letter-spacing="0.353" >Note: This is the last</text>
<text x="393.7" y="574.2" class="bi" font-size="10" fill="#1111bb" letter-spacing="0.393" xml:space="preserve"><tspan text-decoration="underline">decrease</tspan>  in debt</text>
<text x="368.2" y="587" class="bi" font-size="10" fill="#1111bb" letter-spacing="0.454" xml:space="preserve">(last  <tspan text-decoration="underline">true</tspan>  budget surplus)</text>
<rect x="734.5" y="639" width="63.5" height="17.5" fill="#fff"/>
<text x="737.5" y="652.5" class="bi" font-size="13.5" fill="#2a9a5a" letter-spacing="1.241" >$17.91</text>
<text x="572" y="697.5" class="bi" font-size="9.2" fill="#1a7a2a" letter-spacing="0.272" xml:space="preserve"><tspan text-decoration="underline">Note:</tspan>    At the end of the fiscal year (9/29/2000), the "Deficit"</text>
<text x="594.5" y="708" class="bi" font-size="9" fill="#1a7a2a" letter-spacing="0.080" >is still a positive number, albeit the smallest in many years.</text>
</svg></body></html>
